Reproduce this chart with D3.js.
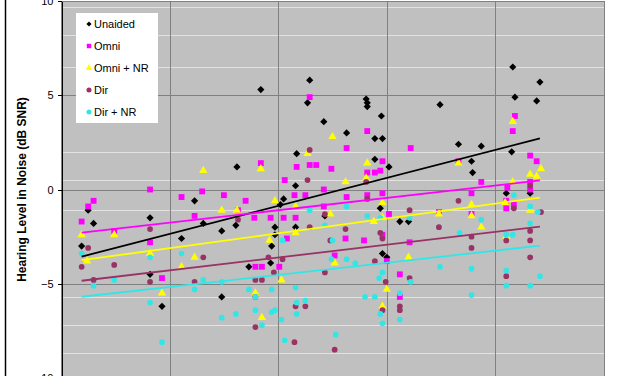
<!DOCTYPE html>
<html>
<head>
<meta charset="utf-8">
<script src="https://d3js.org/d3.v7.min.js"></script>
<style>
    body { margin: 0; background: #fff; }
    svg { display: block; font-family: Arial, "Liberation Sans", sans-serif; }
    .axis text { font-size: 11px; fill: #000; }
    .axis path, .axis line { stroke: #000; shape-rendering: crispEdges; }
</style>
</head>
<body>
<svg width="627" height="376"></svg>
<script>
// data: [x, hearing level in noise (dB SNR)]
var unaided = [[22.5,-1.1],[23.0,-1.8],[21.9,-3.0],[28.2,-1.5],[28.2,-4.5],[29.3,-6.2],[31.1,-2.6],[32.3,-0.6],
    [33.1,-1.8],[34.8,-5.7],[34.8,-2.2],[36.1,-1.9],[36.2,1.2],[38.4,5.3],[37.3,-4.1],[39.3,-3.9],[39.4,-3.0],
    [39.7,-2.4],[39.7,-2.0],[40.2,-0.8],[40.5,-0.5],[41.6,0.2],[41.6,-2.0],[41.7,1.9],[42.9,5.8],[42.7,4.6],
    [44.2,3.6],[44.3,-1.4],[46.3,3.0],[48.1,4.8],[48.2,4.6],[48.2,4.4],[48.9,2.7],[48.9,1.6],[49.5,3.9],
    [49.6,2.7],[50.2,1.2],[49.4,-1.0],[49.6,-3.4],[50.0,-3.6],[51.2,-1.7],[52.0,-1.7],[54.9,4.5],[56.6,2.4],
    [58.7,2.3],[57.8,1.5],[57.9,0.9],[61.5,2.0],[61.6,6.5],[64.1,5.7],[61.8,4.9],[63.8,4.7],[63.2,-0.2],[61.0,-0.2]];

var omni = [[21.9,-1.7],[22.5,-0.9],[23.0,-0.6],[24.9,-2.2],[28.2,0.0],[28.2,-2.8],[29.3,-4.7],[31.1,-0.4],
    [32.3,-1.4],[33.0,-0.1],[35.0,-0.3],[36.3,-1.1],[37.0,-0.6],[37.8,-1.5],[37.9,-4.1],[38.5,-4.1],[38.4,1.4],
    [39.3,-1.5],[40.1,-4.1],[40.5,-1.5],[40.6,0.5],[40.8,-2.6],[41.6,-1.5],[41.5,-0.3],[41.7,1.2],[42.5,-0.3],
    [42.9,4.9],[42.9,1.3],[43.5,1.3],[44.2,0.0],[44.2,-0.9],[44.9,1.1],[45.2,-3.5],[46.3,2.2],[46.3,-0.4],
    [46.2,-2.6],[47.9,-2.7],[48.2,3.1],[48.2,0.9],[48.9,0.9],[49.4,1.0],[49.6,1.5],[48.2,-0.3],[49.6,-0.2],
    [49.6,-2.4],[50.2,-1.3],[50.0,-3.8],[51.2,-4.5],[51.2,-5.7],[52.1,-2.8],[52.2,2.2],[54.8,-1.2],[56.6,1.5],
    [57.8,-0.2],[57.8,-1.3],[58.7,0.4],[61.0,-0.6],[61.0,-1.0],[61.1,0.1],[61.7,-0.8],[61.6,3.1],[61.8,3.9],
    [63.2,1.8],[63.8,1.5],[63.2,0.4],[63.2,0.0]];

var omniNR = [[21.9,-2.4],[22.4,-3.8],[24.9,-2.4],[28.2,-3.4],[29.3,-5.5],[31.1,-4.1],[32.3,-3.6],[33.1,1.0],
    [34.8,-1.1],[36.2,-1.1],[37.9,-5.5],[38.4,1.1],[38.5,-6.8],[39.2,-2.7],[39.7,-0.6],[40.3,-4.8],[41.6,-0.9],
    [41.6,-2.3],[42.7,1.9],[44.8,-1.3],[45.0,2.8],[45.2,-3.9],[46.2,0.4],[48.1,0.6],[48.2,1.4],[48.8,-1.7],
    [49.6,-0.7],[49.6,-1.5],[49.6,-6.2],[50.0,-5.3],[52.0,-3.6],[54.8,-1.3],[56.6,1.4],[57.8,-0.8],[57.8,-1.4],
    [58.7,-2.0],[60.9,-0.7],[61.0,-2.5],[61.6,3.6],[61.6,0.4],[63.2,0.8],[63.8,0.7],[64.2,1.1],[63.2,-1.1]];

var dir = [[22.5,-3.1],[21.9,-4.1],[23.0,-4.8],[24.9,-4.0],[28.2,-2.1],[28.2,-4.9],[32.3,-4.9],[33.1,-3.6],
    [36.3,-1.6],[37.9,-4.8],[38.5,-4.8],[37.9,-5.7],[37.9,-7.3],[39.1,-3.6],[39.6,-4.4],[40.4,-3.7],[41.5,-8.1],
    [41.6,-6.2],[42.5,-6.2],[42.7,0.5],[42.9,2.1],[42.9,-2.0],[44.3,-1.3],[44.3,-4.4],[44.8,-2.7],[45.2,-8.5],
    [46.2,-2.1],[48.1,0.4],[48.2,-0.5],[48.9,-3.8],[49.4,-2.3],[49.6,-2.6],[49.6,-6.4],[49.9,-4.9],[51.2,-6.2],
    [51.2,-6.4],[52.1,-1.1],[52.1,-4.7],[54.8,-2.0],[56.6,-0.6],[57.8,-2.5],[57.8,-3.1],[61.0,-2.7],[61.0,-4.6],
    [61.7,-1.0],[63.2,0.2],[63.2,-2.2],[63.2,-2.7],[63.2,-3.6],[64.2,-1.2]];

var dirNR = [[21.9,-3.4],[23.0,-5.1],[24.9,-4.8],[28.2,-3.6],[28.2,-6.0],[29.3,-8.1],[31.1,-3.4],[32.3,-5.3],
    [33.1,-4.8],[34.8,-4.9],[34.8,-6.8],[36.1,-6.6],[37.3,-5.3],[37.9,-5.7],[37.9,-6.4],[38.5,-7.2],[39.4,-5.3],
    [39.4,-6.5],[39.7,-6.4],[40.3,-6.9],[40.4,-2.7],[40.6,-8.0],[41.6,-5.2],[41.7,-6.0],[42.5,-5.9],[41.7,-6.6],
    [42.9,-1.1],[44.3,-1.9],[44.9,-3.7],[45.0,-2.7],[45.3,-7.7],[46.3,-0.9],[46.3,-3.7],[47.1,-3.9],[48.0,-5.7],
    [48.2,-1.4],[49.4,-1.5],[49.6,-4.4],[49.3,-4.7],[48.9,-5.7],[49.4,-6.6],[49.6,-7.1],[51.2,-5.5],[51.2,-6.9],
    [52.1,-1.5],[52.2,-4.9],[54.9,-4.1],[56.7,-2.3],[57.8,-4.2],[57.8,-5.6],[58.7,-1.6],[61.0,-2.4],[61.0,-4.3],
    [61.0,-5.1],[61.6,-2.4],[61.7,-0.3],[63.2,-0.9],[63.2,-1.8],[63.2,-5.1],[63.9,-1.2],[64.1,-4.6]];

// linear trend lines: [x, y] at both ends
var trendX = [21.9, 64.1];
var trendUnaided = [-3.56, 2.71];
var trendOmni = [-2.29, 0.48];
var trendOmniNR = [-3.75, -0.43];
var trendDir = [-4.84, -1.97];
var trendDirNR = [-5.69, -2.98];

var names = ["Unaided", "Omni", "Omni + NR", "Dir", "Dir + NR"];
var yTicks = [-10, -5, 0, 5, 10];
var xTicks = [30, 40, 50, 60];
var minorY = [9.7, 8.2, 6.5, 2.0, 0.5, -1.1, -5.7, -7.2, -8.7];

var svg = d3.select("svg");

var x = d3.scaleLinear().domain([20, 70]).range([61, 604]);
var y = d3.scaleLinear().domain([-10, 10]).range([378, 1]);

var series = [
    { name: names[0], values: unaided, trend: trendUnaided, color: "#000000", line: "#000000", shape: "diamond" },
    { name: names[1], values: omni, trend: trendOmni, color: "#ff00ff", line: "#ff00ff", shape: "square" },
    { name: names[2], values: omniNR, trend: trendOmniNR, color: "#ffff00", line: "#ffff00", shape: "triangle" },
    { name: names[3], values: dir, trend: trendDir, color: "#993366", line: "#993366", shape: "circle" },
    { name: names[4], values: dirNR, trend: trendDirNR, color: "#33e6e6", line: "#33e6e6", shape: "circle" }
];

function symbolPath(shape) {
    if (shape == "diamond") return "M0,-3.6L3.6,0L0,3.6L-3.6,0Z";
    if (shape == "square") return d3.symbol(d3.symbolSquare, 34)();
    if (shape == "triangle") return d3.symbol(d3.symbolTriangle, 30)();
    return d3.symbol(d3.symbolCircle, 26)();
}

// left border line of the chart area
svg.append("line")
    .attr("x1", 5.5).attr("x2", 5.5).attr("y1", 0).attr("y2", 376)
    .attr("stroke", "#000").attr("stroke-width", 1.5);

// plot background
svg.append("rect")
    .attr("x", x(20)).attr("y", y(10))
    .attr("width", x(70) - x(20)).attr("height", y(-10) - y(10))
    .attr("fill", "#c0c0c0");

// faint light lines
svg.append("g").selectAll("line")
    .data(minorY)
    .enter().append("line")
    .attr("x1", x(20)).attr("x2", x(70))
    .attr("y1", function(d) { return Math.round(y(d)) + 0.5; })
    .attr("y2", function(d) { return Math.round(y(d)) + 0.5; })
    .attr("stroke", "#e2e2e2").attr("stroke-width", 1);

// major grid
svg.append("g").selectAll("line")
    .data(yTicks)
    .enter().append("line")
    .attr("x1", x(20)).attr("x2", x(70))
    .attr("y1", function(d) { return Math.round(y(d)) + 0.5; })
    .attr("y2", function(d) { return Math.round(y(d)) + 0.5; })
    .attr("stroke", "#808080");

svg.append("g").selectAll("line")
    .data(xTicks)
    .enter().append("line")
    .attr("y1", y(10)).attr("y2", y(-10))
    .attr("x1", function(d) { return Math.round(x(d)) + 0.5; })
    .attr("x2", function(d) { return Math.round(x(d)) + 0.5; })
    .attr("stroke", "#808080");

svg.append("rect")
    .attr("x", x(20) + 0.5).attr("y", y(10) + 0.5)
    .attr("width", x(70) - x(20)).attr("height", y(-10) - y(10))
    .attr("fill", "none").attr("stroke", "#808080");

// markers
series.forEach(function(s) {
    svg.append("g").selectAll("path")
        .data(s.values)
        .enter().append("path")
        .attr("d", symbolPath(s.shape))
        .attr("transform", function(d) { return "translate(" + x(d[0]) + "," + y(d[1]) + ")"; })
        .attr("fill", s.color);
});

// trend lines
var line = d3.line()
    .x(function(d) { return x(d[0]); })
    .y(function(d) { return y(d[1]); });

series.forEach(function(s) {
    svg.append("path")
        .datum(trendX.map(function(v, i) { return [v, s.trend[i]]; }))
        .attr("d", line)
        .attr("fill", "none")
        .attr("stroke", s.line)
        .attr("stroke-width", 1.8);
});

// y axis
var yAxis = svg.append("g")
    .attr("class", "axis")
    .attr("transform", "translate(" + (x(20) + 0.5) + ",0)")
    .call(d3.axisLeft(y).tickValues(yTicks).tickSize(4).tickPadding(4).tickSizeOuter(0));
yAxis.select(".domain").attr("stroke", "#000");

svg.append("text")
    .attr("transform", "translate(26," + y(0) + ") rotate(-90)")
    .attr("text-anchor", "middle")
    .style("font-size", "12px")
    .style("font-weight", "bold")
    .text("Hearing Level in Noise (dB SNR)");

// legend
var legend = svg.append("g").attr("transform", "translate(76,13)");
legend.append("rect")
    .attr("width", 82).attr("height", 110)
    .attr("fill", "#fff");

var item = legend.selectAll(".item")
    .data(series)
    .enter().append("g")
    .attr("class", "item")
    .attr("transform", function(d, i) { return "translate(0," + (11 + i * 22) + ")"; });

item.append("path")
    .attr("d", function(d) { return d.shape == "diamond" ? "M0,-2.6L2.6,0L0,2.6L-2.6,0Z" : d3.symbol(d.shape == "square" ? d3.symbolSquare : d.shape == "triangle" ? d3.symbolTriangle : d3.symbolCircle, 20)(); })
    .attr("transform", "translate(13,0)")
    .attr("fill", function(d) { return d.color; });

item.append("text")
    .attr("x", 18)
    .attr("dy", "0.35em")
    .style("font-size", "11px")
    .text(function(d) { return d.name; });
</script>
</body>
</html>
